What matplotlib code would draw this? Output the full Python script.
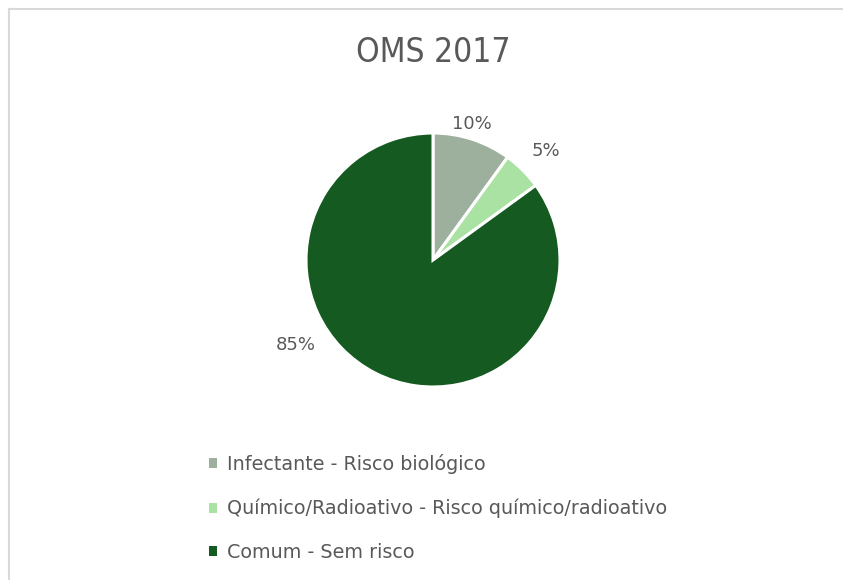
import matplotlib.pyplot as plt
from matplotlib.lines import Line2D
from matplotlib.patches import Patch
import numpy as np

# dados OMS 2017
categorias = ['Infectante - Risco biológico',
              'Químico/Radioativo - Risco químico/radioativo',
              'Comum - Sem risco']
valores = [10, 5, 85]
rotulos = ['10%', '5%', '85%']
cores = ['#9CB09D', '#A9E2A2', '#155A20']

# posicao dos rotulos (distancia em raios, angulo em graus)
pos_rotulos = [(1.11, 74), (1.24, 44), (1.27, 212)]

W, H = 843, 580
fig = plt.figure(figsize=(W / 100, H / 100), dpi=100)
fig.patch.set_facecolor('white')

# borda do grafico (so topo e esquerda aparecem no recorte)
fig.add_artist(Line2D([9 / W, 1], [1 - 9 / H, 1 - 9 / H], color='#D9D9D9', lw=1.5))
fig.add_artist(Line2D([9 / W, 9 / W], [0, 1 - 9 / H], color='#D9D9D9', lw=1.5))

cx, cy, r = 433, 260, 127
ax = fig.add_axes([(cx - r) / W, (H - cy - r) / H, 2 * r / W, 2 * r / H])
ax.pie(valores, colors=cores, startangle=90, counterclock=False,
       wedgeprops={'edgecolor': 'white', 'linewidth': 2.2})
ax.set_xlim(-1, 1)
ax.set_ylim(-1, 1)

for txt, (d, ang) in zip(rotulos, pos_rotulos):
    a = np.deg2rad(ang)
    ax.text(d * np.cos(a), d * np.sin(a), txt, ha='center', va='center',
            fontsize=13, color='#595959', clip_on=False)

fig.text(cx / W, 1 - 52 / H, 'OMS 2017', ha='center', va='center',
         fontsize=24, color='#595959', fontstretch='condensed')

handles = [Patch(facecolor=c, edgecolor='none') for c in cores]
fig.legend(handles, categorias, loc='upper left',
           bbox_to_anchor=(192 / W, 1 - 437 / H), frameon=False,
           fontsize=13.8, labelcolor='#595959', handlelength=0.42, handleheight=0.42,
           handletextpad=0.52, labelspacing=1.29)

fig.savefig('out.png', dpi=100)
